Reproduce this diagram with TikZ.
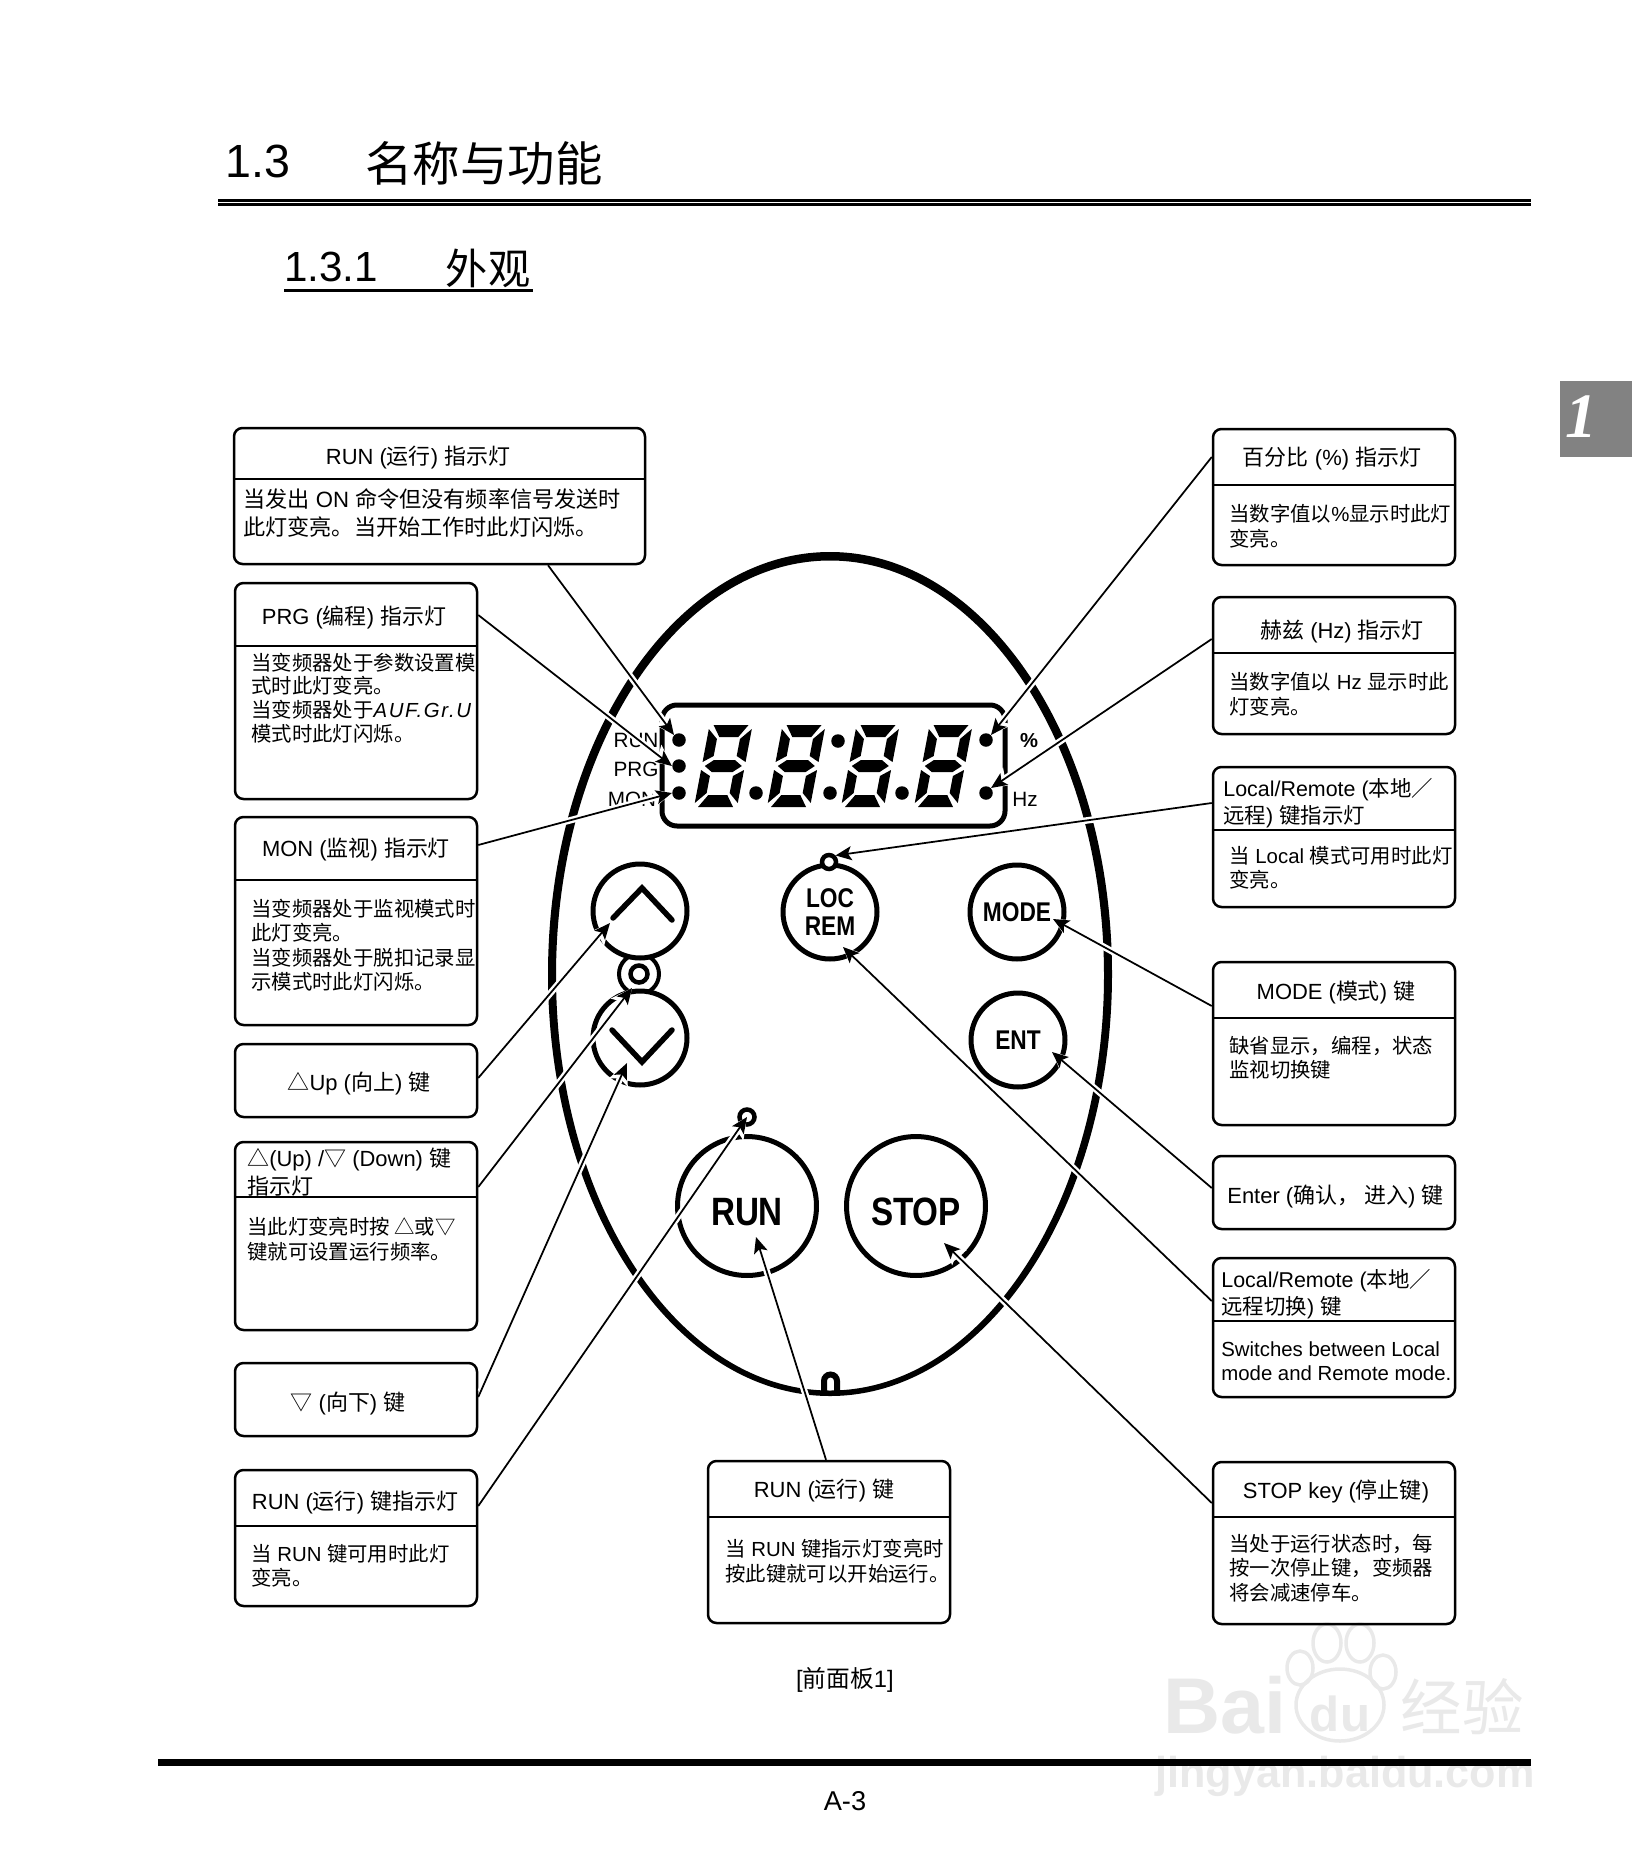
\documentclass[tikz,border=0pt]{standalone}
\usepackage{fontspec}
\setmainfont{Liberation Sans}
\newfontfamily\cjk{Noto Sans CJK SC}
\newfontfamily\keyfont[FakeStretch=0.84]{Liberation Sans}
\newfontfamily\tabfont{Liberation Serif}
\usetikzlibrary{arrows.meta,fit}
\newcommand{\cj}[1]{{\cjk #1}}
\definecolor{tabgray}{RGB}{130,130,130}
\definecolor{markgray}{RGB}{233,233,233}
\tikzset{
  panel/.style={draw,line width=0.05cm,rounded corners=0.17cm,inner sep=0pt},
  panelline/.style={line width=0.05cm},
  paneltitle/.style={font=\fontsize{12.5}{15.6}\selectfont,align=left,inner sep=0pt,yshift=-0.04cm},
  panelbody/.style={font=\fontsize{11.6}{13.9}\selectfont,align=left,anchor=west,inner sep=0pt,yshift=-0.02cm},
  keybtn/.style={draw,circle,fill=white,line width=0.1cm,inner sep=0pt,font=\keyfont\bfseries\fontsize{15.4}{16.5}\selectfont,align=center},
  bigkey/.style={keybtn,font=\keyfont\bfseries\fontsize{22.5}{24}\selectfont,minimum size=2.78cm,text height=0.76cm,text depth=0pt},
  smallkey/.style={keybtn,minimum size=1.88cm},
  led/.style={circle,fill=black,inner sep=0pt,minimum size=0.27cm},
  lamp/.style={draw,circle,line width=0.09cm,inner sep=0pt,minimum size=0.28cm},
  panelabel/.style={font=\fontsize{11.8}{14}\selectfont,inner sep=0pt},
  chevron/.style={line width=0.11cm,line cap=round},
  callout/.style={line width=0.035cm,-{Stealth[length=0.32cm,width=0.28cm,inset=0.07cm]},
    preaction={draw=white,line width=0.13cm,shorten <=0.12cm,
      -{Stealth[length=0.42cm,width=0.4cm,inset=0.08cm]}}},
  watermark/.style={text=markgray,font=\bfseries,inner sep=0pt},
  toe/.style={draw=markgray,line width=0.07cm}
}
\begin{document}
\begin{tikzpicture}[x=0.02cm,y=-0.02cm]
  \useasboundingbox (0,0) rectangle (1632,1862);

  % page furniture
  \node[font=\fontsize{26.5}{30}\selectfont,inner sep=0pt] (chapnum) at (258,161) {1.3};
  \node[font=\cjk\fontsize{27}{30}\selectfont,inner sep=0pt] (chaptitle) at (484,163) {名称与功能};
  \draw[line width=0.05cm] (218,200.5) -- (1531,200.5);
  \draw[line width=0.05cm] (218,204.5) -- (1531,204.5);
  \node[font=\fontsize{24}{26}\selectfont,inner sep=0pt] (secnum) at (331,267) {1.3.1};
  \node[font=\cjk\fontsize{24}{28}\selectfont,inner sep=0pt] (sectitle) at (488,268) {外观};
  \draw[line width=0.06cm] (284,290) -- (533,290);
  \fill[tabgray] (1560,381) rectangle (1632,457);
  \node[text=white,font=\tabfont\bfseries\itshape\fontsize{36}{38}\selectfont,inner sep=0pt] (tabnum) at (1581,417) {1};

  % watermark
  \node[watermark,font=\bfseries\fontsize{45}{50}\selectfont] (markbai) at (1225,1705) {Bai};
  \node[watermark,font=\bfseries\fontsize{28}{30}\selectfont] (markdu) at (1340,1714) {du};
  \node[watermark,font=\cjk\fontsize{35}{38}\selectfont] (markjy) at (1462,1707) {经验};
  \node[watermark,font=\bfseries\fontsize{24.6}{28}\selectfont] (markurl) at (1345,1776) {jingyan.baidu.com};
  \draw[toe] (1340,1705) ellipse (44 and 36);
  \draw[toe] (1327,1643) ellipse (14 and 19);
  \draw[toe] (1360,1643) ellipse (14 and 19);
  \draw[toe] (1300,1668) ellipse (13 and 17);
  \draw[toe] (1383,1672) ellipse (13 and 17);

  % front panel
  \fill[even odd rule] (830,974) ellipse (282 and 422) (830,975.5) ellipse (274 and 415);
  \draw[line width=0.12cm] (824,1392) -- (824,1381) arc (180:360:6.5) -- (837,1392);
  \node[draw,line width=0.1cm,rounded corners=0.3cm,inner sep=0pt,fit={(662,705) (1005,826)}] (display) {};
  \foreach \digx in {694,767,841,914} {
    \begin{scope}[shift={(\digx,807)},xslant=0.19]
      \fill (4,-82) -- (39,-82) -- (31,-70) -- (12,-70) -- cycle;
      \fill (4,0) -- (39,0) -- (31,-12) -- (12,-12) -- cycle;
      \fill (0,-78) -- (10,-68) -- (10,-51) -- (0,-45) -- cycle;
      \fill (43,-78) -- (33,-68) -- (33,-51) -- (43,-45) -- cycle;
      \fill (0,-37) -- (10,-31) -- (10,-14) -- (0,-4) -- cycle;
      \fill (43,-37) -- (33,-31) -- (33,-14) -- (43,-4) -- cycle;
      \fill (3,-41) -- (11,-47) -- (32,-47) -- (40,-41) -- (32,-35) -- (11,-35) -- cycle;
    \end{scope}
  }
  \node[led] (runled) at (679,740) {};
  \node[led] (prgled) at (679,766) {};
  \node[led] (monled) at (679,793) {};
  \node[led] (dotb) at (756,793) {};
  \node[led] (dotc) at (830,793) {};
  \node[led] (dotd) at (902,793) {};
  \node[led] (colon) at (838,741) {};
  \node[led] (pctled) at (986,740) {};
  \node[led] (hzled) at (986,793) {};
  \node[panelabel] (runlbl) at (636,740) {RUN};
  \node[panelabel] (prglbl) at (636,769) {PRG};
  \node[panelabel] (monlbl) at (632,799) {MON};
  \node[panelabel,font=\bfseries\fontsize{11.5}{14}\selectfont] (pctlbl) at (1029,741) {\%};
  \node[panelabel] (hzlbl) at (1025,799) {Hz};

  \draw[line width=0.08cm] (639,974) circle (20);
  \node[lamp,minimum size=0.34cm] (updownlamp) at (639,974) {};
  \node[smallkey] (upkey) at (640,911) {};
  \node[smallkey] (downkey) at (640,1038) {};
  \draw[chevron] (613,918) -- (642,888) -- (672,920);
  \draw[chevron] (612,1030) -- (642,1062) -- (672,1030);
  \node[smallkey] (lockey) at (830,912) {LOC\\[-1pt]REM};
  \node[lamp,fill=white] (loclamp) at (829,862) {};
  \node[smallkey] (modekey) at (1017,912) {MODE};
  \node[smallkey] (entkey) at (1018,1040) {ENT};
  \node[bigkey] (runkey) at (747,1206) {RUN};
  \node[lamp,fill=white,minimum size=0.3cm] (runlamp) at (747,1117) {};
  \node[bigkey] (stopkey) at (916,1206) {STOP};

  % panels
  \foreach \nm/\xa/\ya/\xb/\yb in {
    runbox/234/428/645/564, prgbox/235/583/477/799, monbox/235/817/477/1025,
    upbox/235/1044/477/1117, updnbox/235/1142/477/1330, dnbox/235/1363/477/1436,
    keylbox/235/1470/477/1606, keybox/708/1461/950/1623,
    pctbox/1213/429/1455/565, hzbox/1213/597/1455/734, lamplbox/1213/767/1455/907,
    modebox/1213/962/1455/1125, entbox/1213/1156/1455/1229, lockbox/1213/1258/1455/1397,
    stopbox/1213/1462/1455/1624} {
    \node[panel,fit={(\xa,\ya) (\xb,\yb)}] (\nm) {};
  }
  \foreach \nm/\yd in {
    runbox/479, prgbox/646, monbox/880, updnbox/1197, keylbox/1526, keybox/1517,
    pctbox/485, hzbox/653, lamplbox/830, modebox/1018, lockbox/1321, stopbox/1517} {
    \draw[panelline] (\nm.west |- 0,\yd) -- (\nm.east |- 0,\yd);
  }

  \node[paneltitle] (runhead) at (418,456) {RUN (\cj{运行}) \cj{指示灯}};
  \node[panelbody,font=\fontsize{12.6}{15.4}\selectfont] (runtext) at (243,512) {\cj{当发出} ON \cj{命令但没有频率信号发送时}\\\cj{此灯变亮。当开始工作时此灯闪烁。}};
  \node[paneltitle] (prghead) at (354,615) {PRG (\cj{编程}) \cj{指示灯}};
  \node[panelbody,font=\fontsize{11.6}{13.5}\selectfont] (prgtext) at (251,697) {\cj{当变频器处于参数设置模}\\\cj{式时此灯变亮。}\\\cj{当变频器处于}{\itshape\addfontfeature{LetterSpace=8}AUF.Gr.U}\\\cj{模式时此灯闪烁。}};
  \node[paneltitle] (monhead) at (356,848) {MON (\cj{监视}) \cj{指示灯}};
  \node[panelbody] (montext) at (251,944) {\cj{当变频器处于监视模式时}\\\cj{此灯变亮。}\\\cj{当变频器处于脱扣记录显}\\\cj{示模式时此灯闪烁。}};
  \node[paneltitle] (uphead) at (359,1082) {\cj{△}Up (\cj{向上}) \cj{键}};
  \node[paneltitle,anchor=west] (updnhead) at (247,1170) {\cj{△}(Up) /\cj{▽} (Down) \cj{键}\\\cj{指示灯}};
  \node[panelbody] (updntext) at (247,1238) {\cj{当此灯变亮时按 △或▽}\\\cj{键就可设置运行频率。}};
  \node[paneltitle] (dnhead) at (348,1402) {\cj{▽} (\cj{向下}) \cj{键}};
  \node[paneltitle] (keylhead) at (355,1500) {RUN (\cj{运行}) \cj{键指示灯}};
  \node[panelbody] (keyltext) at (251,1565) {\cj{当} RUN \cj{键可用时此灯}\\\cj{变亮。}};
  \node[paneltitle] (keyhead) at (824,1488) {RUN (\cj{运行}) \cj{键}};
  \node[panelbody] (keytext) at (725,1560) {\cj{当} RUN \cj{键指示灯变亮时}\\\cj{按此键就可以开始运行。}};
  \node[paneltitle] (pcthead) at (1332,457) {\cj{百分比} (\%) \cj{指示灯}};
  \node[panelbody] (pcttext) at (1229,525) {\cj{当数字值以}\%\cj{显示时此灯}\\\cj{变亮。}};
  \node[paneltitle] (hzhead) at (1342,630) {\cj{赫兹} (Hz) \cj{指示灯}};
  \node[panelbody] (hztext) at (1229,693) {\cj{当数字值以} Hz \cj{显示时此}\\\cj{灯变亮。}};
  \node[paneltitle,anchor=west,font=\fontsize{12.2}{15.6}\selectfont] (lamplhead) at (1223,801) {Local/Remote (\cj{本地／}\\\cj{远程}) \cj{键指示灯}};
  \node[panelbody] (lampltext) at (1229,867) {\cj{当} Local \cj{模式可用时此灯}\\\cj{变亮。}};
  \node[paneltitle] (modehead) at (1336,991) {MODE (\cj{模式}) \cj{键}};
  \node[panelbody] (modetext) at (1229,1057) {\cj{缺省显示，编程，状态}\\\cj{监视切换键}};
  \node[paneltitle,anchor=west] (enthead) at (1227,1195) {Enter (\cj{确认， 进入}) \cj{键}};
  \node[paneltitle,anchor=west,font=\fontsize{12.2}{15.6}\selectfont] (lockhead) at (1221,1292) {Local/Remote (\cj{本地／}\\\cj{远程切换}) \cj{键}};
  \node[panelbody,font=\fontsize{11.6}{14}\selectfont] (locktext) at (1221,1360) {Switches between Local\\mode and Remote mode.};
  \node[paneltitle] (stophead) at (1336,1489) {STOP key (\cj{停止键})};
  \node[panelbody] (stoptext) at (1229,1567) {\cj{当处于运行状态时，每}\\\cj{按一次停止键，变频器}\\\cj{将会减速停车。}};

  \node[font=\fontsize{13.5}{16}\selectfont,inner sep=0pt] (caption) at (845,1680) {[\cj{前面板}1]};
  \draw[line width=0.14cm] (158,1762) -- (1531,1762);
  \node[font=\fontsize{15.5}{18}\selectfont,inner sep=0pt] (pageno) at (845,1801) {A-3};

  % arrow ends inside the keys
  \coordinate (uptip) at (610,923);
  \coordinate (updntip) at (632,988);
  \coordinate (dntip) at (627,1063);
  \coordinate (runtip) at (756,1237);
  \coordinate (stoptip) at (944,1243);
  \coordinate (loctip) at (843,947);
  \coordinate (enttip) at (1052,1052);
  \coordinate (modetip) at (1053,919);

  \draw[callout] (548,0 |- runbox.south) -- (runled.north west);
  \draw[callout] (prgbox.east |- 0,615) -- (prgled.west);
  \draw[callout] (monbox.east |- 0,845) -- (monled.west);
  \draw[callout] (upbox.east |- 0,1078) -- (uptip);
  \draw[callout] (updnbox.east |- 0,1187) -- (updntip);
  \draw[callout] (dnbox.east |- 0,1397) -- (dntip);
  \draw[callout] (keylbox.east |- 0,1506) -- (runlamp.center);
  \draw[callout] (826,0 |- keybox.north) -- (runtip);
  \draw[callout] (stopbox.west |- 0,1503) -- (stoptip);
  \draw[callout] (lockbox.west |- 0,1301) -- (loctip);
  \draw[callout] (entbox.west |- 0,1188) -- (enttip);
  \draw[callout] (modebox.west |- 0,1006) -- (modetip);
  \draw[callout] (lamplbox.west |- 0,803) -- (loclamp.north east);
  \draw[callout] (hzbox.west |- 0,639) -- (hzled.north east);
  \draw[callout] (pctbox.west |- 0,457) -- (pctled.north east);
\end{tikzpicture}
\end{document}
